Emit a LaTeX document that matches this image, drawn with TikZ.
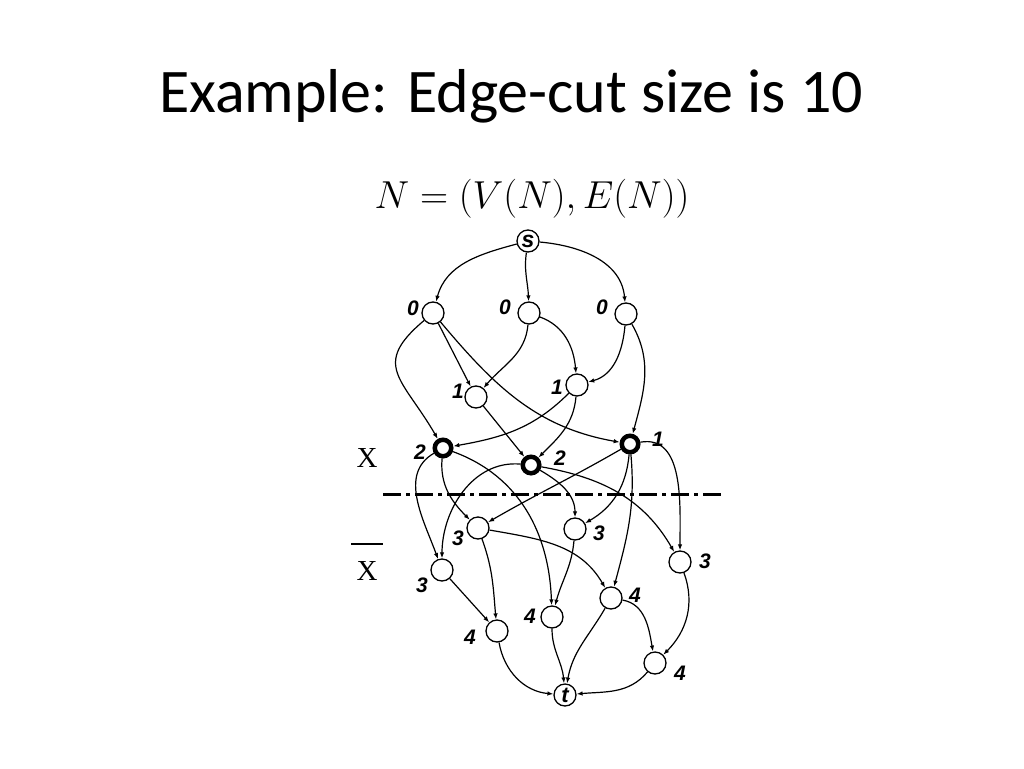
\RequirePackage{fix-cm}
\documentclass[tikz,border=0pt]{standalone}
\usepackage{fontspec}
\usepackage{tikz}
\usetikzlibrary{arrows.meta,positioning}
\setmainfont{Carlito}
\newfontfamily\lblfont{Liberation Sans}
\newfontfamily\xfont{Liberation Serif}

\tikzset{
    vtx/.style={circle, draw, line width=1.3pt, minimum size=22pt, inner sep=0pt},
    cutvtx/.style={vtx, line width=4.5pt, minimum size=16.5pt},
    lbl/.style={font=\lblfont\bfseries\itshape\fontsize{21}{21}\selectfont, inner sep=0pt},
    flow/.style={line width=1.2pt, -{Latex[length=6pt,width=4.5pt]}},
    cutline/.style={line width=3pt, dash pattern=on 18pt off 5pt on 4pt off 5pt}
}

\begin{document}
\begin{tikzpicture}[x=1pt,y=1pt]
    \useasboundingbox (0,0) rectangle (1024,-768);

    % Title
    \node[anchor=base, font=\fontsize{62}{66}\selectfont] (title) at (511,-112) {Example: Edge-cut size is 10};
    \node[anchor=base, font=\fontsize{39}{42}\selectfont] (formula) at (532,-208) {$N=(V(N),E(N))$};

    % Vertices
    \node[vtx] (s) at (528,-241) {\lblfont\bfseries\itshape\fontsize{23}{23}\selectfont s};
    \node[vtx] (a0) at (433,-313) {};
    \node[vtx] (b0) at (529,-313) {};
    \node[vtx] (c0) at (626,-314) {};
    \node[vtx] (d1) at (476,-397) {};
    \node[vtx] (e1) at (577,-385) {};
    \node[cutvtx] (f2) at (443,-448) {};
    \node[cutvtx] (g2) at (531,-465) {};
    \node[cutvtx] (h1) at (630,-444) {};
    \node[vtx] (i3) at (478,-528) {};
    \node[vtx] (j3) at (575,-529) {};
    \node[vtx] (k3) at (680,-562) {};
    \node[vtx] (l3) at (442,-570) {};
    \node[vtx] (m4) at (611,-598) {};
    \node[vtx] (n4) at (552,-617) {};
    \node[vtx] (o4) at (497,-631) {};
    \node[vtx] (p4) at (655,-663) {};
    \node[vtx] (t) at (565,-695) {\lblfont\bfseries\itshape\fontsize{22}{22}\selectfont t};

    % Labels
    \node[lbl] (la0) at (413,-308) {0};
    \node[lbl] (lb0) at (505,-307) {0};
    \node[lbl] (lc0) at (602,-307) {0};
    \node[lbl] (ld1) at (458,-391) {1};
    \node[lbl] (le1) at (557,-387) {1};
    \node[lbl] (lf2) at (420,-452) {2};
    \node[lbl] (lg2) at (560,-458) {2};
    \node[lbl] (lh1) at (658,-439) {1};
    \node[lbl] (li3) at (458,-538) {3};
    \node[lbl] (lj3) at (599,-533) {3};
    \node[lbl] (lk3) at (705,-561) {3};
    \node[lbl] (ll3) at (422,-585) {3};
    \node[lbl] (lm4) at (635,-595) {4};
    \node[lbl] (ln4) at (530,-616) {4};
    \node[lbl] (lo4) at (470,-637) {4};
    \node[lbl] (lp4) at (680,-673) {4};

    % Cut
    \coordinate (cutL) at (383,-494);
    \coordinate (cutR) at (722,-494);
    \draw[cutline] (cutL) -- (cutR);
    \node[anchor=base, font=\xfont\fontsize{29}{29}\selectfont, inner sep=0pt] (xset) at (367,-467) {X};
    \node[anchor=base, font=\xfont\fontsize{29}{29}\selectfont, inner sep=0pt] (xbar) at (367,-580) {X};
    \draw[line width=1.5pt] ([xshift=-5pt,yshift=17pt]xbar.north west) -- ([xshift=5pt,yshift=17pt]xbar.north east);

    % Edges above the cut
    \draw[flow] (s) to[out=195,in=75] (a0);
    \draw[flow] (s) to[out=262,in=92] (b0);
    \draw[flow] (s) to[out=-5,in=95] (c0);
    \draw[flow] (a0) -- (d1);
    \draw[flow] (a0) to[out=-50,in=170] (h1);
    \draw[flow] (a0) to[out=220,in=120,looseness=1.5] (f2);
    \draw[flow] (b0) to[out=265,in=50] (d1);
    \draw[flow] (b0) to[out=-20,in=95] (e1);
    \draw[flow] (c0) to[out=265,in=15] (e1);
    \draw[flow] (c0) to[out=-60,in=75] (h1);
    \draw[flow] (d1) -- (g2);
    \draw[flow] (e1) to[out=225,in=10] (f2);
    \draw[flow] (e1) to[out=265,in=45] (g2);

    % Edges across the cut
    \draw[flow] (f2) to[out=210,in=110] (l3);
    \draw[flow] (f2) to[out=265,in=135] (i3);
    \draw[flow] (f2) to[out=-20,in=92] (n4);
    \draw[flow] (g2) to[out=175,in=90] (l3);
    \draw[flow] (g2) to[out=-30,in=90] (j3);
    \draw[flow] (g2) to[out=-10,in=120] (k3);
    \draw[flow] (h1) to[out=210,in=30] (i3);
    \draw[flow] (h1) to[out=265,in=30] (j3);
    \draw[flow] (h1) to[out=275,in=75] (m4);
    \draw[flow] (h1) to[out=10,in=90] (k3);

    % Edges below the cut
    \draw[flow] (i3) to[out=-70,in=95] (o4);
    \draw[flow] (i3) to[out=-10,in=120] (m4);
    \draw[flow] (j3) to[out=265,in=75] (n4);
    \draw[flow] (l3) -- (o4);
    \draw[flow] (k3) to[out=-70,in=45] (p4);
    \draw[flow] (m4) to[out=-10,in=100] (p4);
    \draw[flow] (m4) to[out=240,in=80] (t);
    \draw[flow] (n4) to[out=270,in=95] (t);
    \draw[flow] (o4) to[out=-80,in=175] (t);
    \draw[flow] (p4) to[out=230,in=5] (t);
\end{tikzpicture}
\end{document}
